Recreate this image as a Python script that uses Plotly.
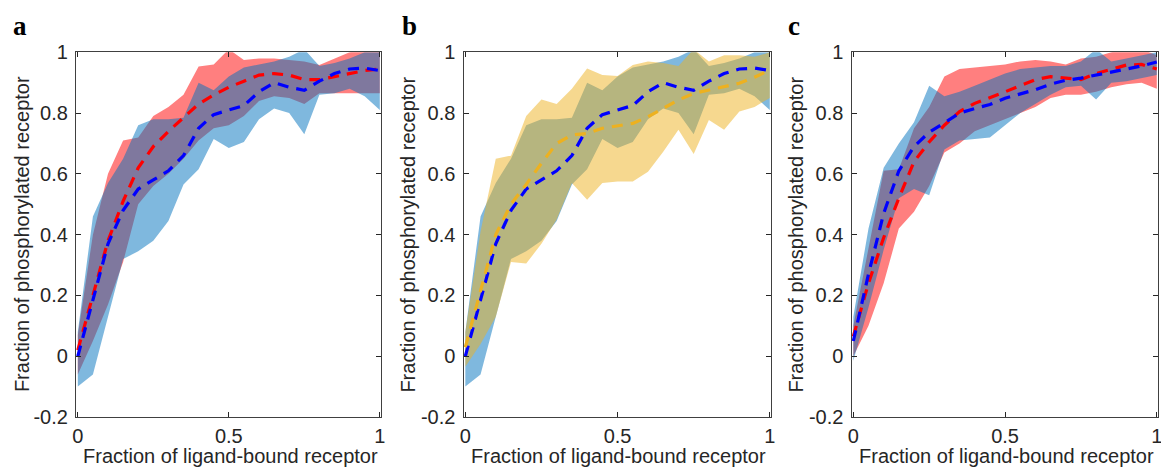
import plotly.graph_objects as go

# Fraction of ligand-bound receptor (sampling grid shared by all panels)
lig_frac = [0.00, 0.05, 0.10, 0.15, 0.20, 0.25, 0.30, 0.35, 0.40, 0.45, 0.50,
            0.55, 0.60, 0.65, 0.70, 0.75, 0.80, 0.85, 0.90, 0.95, 1.00]

# Blue series (panels a and b): mean and band limits
blue_mean_ab = [0.00, 0.19, 0.37, 0.48, 0.55, 0.58, 0.61, 0.66, 0.75, 0.795, 0.81,
                0.825, 0.87, 0.90, 0.885, 0.875, 0.905, 0.93, 0.945, 0.948, 0.94]
blue_lo_ab = [-0.10, -0.06, 0.13, 0.32, 0.345, 0.38, 0.445, 0.565, 0.615, 0.715, 0.685,
              0.705, 0.78, 0.815, 0.80, 0.73, 0.86, 0.865, 0.88, 0.855, 0.81]
blue_hi_ab = [0.08, 0.46, 0.57, 0.65, 0.76, 0.78, 0.78, 0.785, 0.90, 0.875, 0.92,
              0.95, 0.96, 0.97, 0.985, 1.01, 0.955, 0.965, 0.98, 1.00, 1.00]

# Red series (panel a)
red_mean_a = [0.02, 0.20, 0.38, 0.51, 0.62, 0.69, 0.74, 0.785, 0.83, 0.86, 0.885,
              0.905, 0.925, 0.93, 0.925, 0.91, 0.91, 0.92, 0.93, 0.94, 0.945]
red_lo_a = [-0.06, 0.05, 0.17, 0.31, 0.50, 0.56, 0.60, 0.65, 0.71, 0.75, 0.76,
            0.79, 0.84, 0.855, 0.85, 0.83, 0.865, 0.865, 0.865, 0.865, 0.865]
red_hi_a = [0.07, 0.40, 0.60, 0.71, 0.72, 0.79, 0.82, 0.86, 0.953, 0.96, 1.01,
            0.975, 0.98, 0.98, 0.975, 0.97, 0.958, 0.98, 1.00, 1.01, 1.01]

# Yellow series (panel b)
yel_mean_b = [0.03, 0.22, 0.40, 0.50, 0.565, 0.635, 0.70, 0.728, 0.733, 0.75, 0.758,
              0.766, 0.788, 0.816, 0.843, 0.865, 0.876, 0.885, 0.898, 0.918, 0.942]
yel_lo_b = [-0.035, 0.04, 0.13, 0.31, 0.305, 0.37, 0.45, 0.57, 0.515, 0.57, 0.575,
            0.575, 0.607, 0.673, 0.745, 0.665, 0.777, 0.745, 0.805, 0.82, 0.85]
yel_hi_b = [0.08, 0.41, 0.65, 0.66, 0.79, 0.845, 0.83, 0.88, 0.947, 0.925, 0.922,
            0.958, 0.97, 0.965, 0.955, 1.01, 0.97, 0.99, 0.99, 0.985, 1.00]

# Panel c
blue_mean_c = [0.05, 0.27, 0.47, 0.61, 0.69, 0.737, 0.768, 0.80, 0.815, 0.828, 0.849,
               0.862, 0.877, 0.895, 0.908, 0.915, 0.925, 0.935, 0.945, 0.955, 0.968]
blue_lo_c = [-0.015, 0.16, 0.35, 0.52, 0.55, 0.53, 0.68, 0.71, 0.715, 0.72, 0.76,
             0.80, 0.83, 0.86, 0.885, 0.89, 0.845, 0.90, 0.905, 0.915, 0.925]
blue_hi_c = [0.13, 0.42, 0.62, 0.70, 0.77, 0.89, 0.855, 0.87, 0.89, 0.91, 0.93,
             0.945, 0.95, 0.955, 0.955, 0.97, 1.01, 0.97, 0.98, 0.99, 1.00]
red_mean_c = [0.065, 0.24, 0.39, 0.52, 0.64, 0.705, 0.76, 0.805, 0.832, 0.85, 0.87,
              0.89, 0.91, 0.92, 0.915, 0.91, 0.93, 0.945, 0.958, 0.96, 0.945]
red_lo_c = [0.00, 0.10, 0.24, 0.42, 0.475, 0.56, 0.67, 0.70, 0.74, 0.76, 0.78,
            0.80, 0.82, 0.85, 0.86, 0.86, 0.87, 0.885, 0.895, 0.90, 0.88]
red_hi_c = [0.10, 0.36, 0.61, 0.615, 0.75, 0.82, 0.92, 0.945, 0.95, 0.955, 0.96,
            0.97, 0.975, 0.97, 0.96, 0.98, 0.985, 1.00, 1.01, 1.01, 0.99]

# Axis ticks
x_ticks = [0, 0.5, 1]
x_tick_text = ["0", "0.5", "1"]
y_ticks = [-0.2, 0, 0.2, 0.4, 0.6, 0.8, 1]
y_tick_text = ["-0.2", "0", "0.2", "0.4", "0.6", "0.8", "1"]

panel_letters = ["a", "b", "c"]
x_title = "Fraction of ligand-bound receptor"
y_title = "Fraction of phosphorylated receptor"

BLUE_FILL = "rgba(0,114,189,0.5)"
RED_FILL = "rgba(255,0,0,0.5)"
YEL_FILL = "rgba(237,177,32,0.5)"
DASH = "11px,8px"
W, H = 1161, 468
SANS = "Liberation Sans, Arial, sans-serif"

fig = go.Figure()


def band(lo, hi, color, ax):
    fig.add_trace(go.Scatter(
        x=lig_frac + lig_frac[::-1], y=hi + lo[::-1],
        fill="toself", fillcolor=color, mode="lines", line=dict(width=0),
        hoverinfo="skip", showlegend=False, xaxis="x" + ax, yaxis="y" + ax))


def mean_line(y, color, ax):
    fig.add_trace(go.Scatter(
        x=lig_frac, y=y, mode="lines",
        line=dict(color=color, width=3.2, dash=DASH),
        showlegend=False, xaxis="x" + ax, yaxis="y" + ax))


# panel a
band(red_lo_a, red_hi_a, RED_FILL, "")
band(blue_lo_ab, blue_hi_ab, BLUE_FILL, "")
mean_line(red_mean_a, "#FF0000", "")
mean_line(blue_mean_ab, "#0000FF", "")
# panel b
band(blue_lo_ab, blue_hi_ab, BLUE_FILL, "2")
band(yel_lo_b, yel_hi_b, YEL_FILL, "2")
mean_line(blue_mean_ab, "#0000FF", "2")
mean_line(yel_mean_b, "#EDB120", "2")
# panel c
band(red_lo_c, red_hi_c, RED_FILL, "3")
band(blue_lo_c, blue_hi_c, BLUE_FILL, "3")
mean_line(red_mean_c, "#FF0000", "3")
mean_line(blue_mean_c, "#0000FF", "3")

# axes placement in pixels (left, right) and shared vertical extent
x_px = [(76, 381), (463.5, 771), (851.5, 1158)]
y_dom = [1 - 417 / H, 1 - 52.3 / H]
ytitle_px = [21.5, 408, 796]
letter_px = [10.7, 399.7, 785.7]

axis_common = dict(
    ticks="inside", ticklen=5, tickwidth=1, tickcolor="#262626",
    showline=True, mirror="ticks", linecolor="#404040", linewidth=1.2,
    showgrid=False, zeroline=False, automargin=False, ticklabeloverflow="allow",
    tickfont=dict(family=SANS, size=20, color="#262626"),
)

layout = dict(
    width=W, height=H, margin=dict(l=0, r=0, t=0, b=0, pad=0),
    paper_bgcolor="white", plot_bgcolor="white", showlegend=False,
    annotations=[],
)

for i, suf in enumerate(["", "2", "3"]):
    l, r = x_px[i]
    layout["xaxis" + suf] = dict(
        domain=[l / W, r / W], range=[-0.006, 1.004], anchor="y" + suf,
        tickvals=x_ticks, ticktext=x_tick_text, ticklabelstandoff=1, **axis_common)
    layout["yaxis" + suf] = dict(
        domain=y_dom, range=[-0.2, 1.0], anchor="x" + suf,
        tickvals=y_ticks, ticktext=y_tick_text, ticklabelstandoff=3, **axis_common)
    cx = (l + r) / 2
    layout["annotations"].append(dict(
        text=x_title, xref="paper", yref="paper", x=(cx + 1.5) / W, y=1 - 455.5 / H,
        xanchor="center", yanchor="middle", showarrow=False,
        font=dict(family=SANS, size=20, color="#262626")))
    layout["annotations"].append(dict(
        text=y_title, xref="paper", yref="paper", x=ytitle_px[i] / W, y=1 - 234.6 / H,
        xanchor="center", yanchor="middle", textangle=-90, showarrow=False,
        font=dict(family=SANS, size=20, color="#262626")))
    layout["annotations"].append(dict(
        text="<b>" + panel_letters[i] + "</b>", xref="paper", yref="paper",
        x=letter_px[i] / W, y=1 - 26 / H, xanchor="left", yanchor="middle",
        showarrow=False,
        font=dict(family="Liberation Serif, Times New Roman, serif", size=27, color="black")))

fig.update_layout(**layout)
fig.write_html("out.html")
